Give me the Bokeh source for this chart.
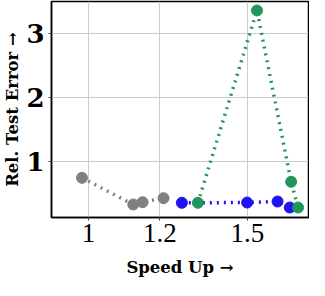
from bokeh.plotting import figure
from bokeh.models import FixedTicker, CustomJSTickFormatter, Range1d, AllLabels
from bokeh.embed import file_html
from bokeh.resources import INLINE

gray_x = [0.9835, 1.121, 1.148, 1.211]
gray_y = [0.745, 0.328, 0.364, 0.427]
blue_x = [1.269, 1.499, 1.620, 1.671]
blue_y = [0.355, 0.359, 0.375, 0.281]
green_x = [1.322, 1.537, 1.677, 1.707]
green_y = [0.355, 3.36, 0.683, 0.281]

x_ticks = [1, 1.2, 1.5]
y_ticks = [1, 2, 3]

p = figure(width=309, height=280, x_axis_type="log",
           x_range=Range1d(0.9099, 1.753), y_range=Range1d(0.125, 3.5),
           output_backend="svg", toolbar_location=None,
           min_border_left=47, min_border_right=1, min_border_top=1, min_border_bottom=63)

series = [(gray_x, gray_y, "#808080"), (blue_x, blue_y, "#1f14f0"), (green_x, green_y, "#21965a")]
for xs, ys, c in series:
    p.line(xs, ys, line_color=c, line_width=3.5, line_dash="2 5")
    p.scatter(xs, ys, size=11, fill_color=c, line_color=c)

p.outline_line_color = "black"
p.outline_line_width = 1.5
p.outline_line_alpha = 1

p.xaxis.ticker = FixedTicker(ticks=x_ticks, minor_ticks=[])
p.yaxis.ticker = FixedTicker(ticks=y_ticks, minor_ticks=[])
p.xaxis.formatter = CustomJSTickFormatter(code="return tick.toString();")
p.yaxis.formatter = CustomJSTickFormatter(code="return tick.toString();")

for ax in (p.xaxis[0], p.yaxis[0]):
    ax.axis_line_color = "black"
    ax.axis_line_width = 1.5
    ax.major_tick_in = 0
    ax.major_tick_out = 3
    ax.minor_tick_out = 0
    ax.minor_tick_in = 0
    ax.major_tick_line_color = "#444444"
    ax.major_label_policy = AllLabels()
    ax.axis_label_text_color = "black"
    ax.major_label_text_color = "black"

p.xaxis.major_label_text_font = "Liberation Serif"
p.xaxis.major_label_text_font_size = "27px"
p.xaxis.major_label_standoff = 3
p.xaxis.axis_label = "Speed Up →"
p.xaxis.axis_label_text_font = "DejaVu Serif"
p.xaxis.axis_label_text_font_style = "bold"
p.xaxis.axis_label_text_font_size = "16.5px"
p.xaxis.axis_label_standoff = 13

p.yaxis.major_label_text_font = "DejaVu Serif"
p.yaxis.major_label_text_font_style = "bold"
p.yaxis.major_label_text_font_size = "26px"
p.yaxis.major_label_standoff = 4
p.yaxis.major_label_orientation = "horizontal"
p.yaxis.axis_label = "Rel. Test Error →"
p.yaxis.axis_label_text_font = "DejaVu Serif"
p.yaxis.axis_label_text_font_style = "bold"
p.yaxis.axis_label_text_font_size = "16.5px"
p.yaxis.axis_label_standoff = 1

p.xgrid.ticker = FixedTicker(ticks=x_ticks)
p.ygrid.ticker = FixedTicker(ticks=y_ticks)
p.grid.grid_line_color = "#cccccc"
p.grid.grid_line_width = 1
p.grid.minor_grid_line_color = None

open("out.html", "w").write(file_html(p, INLINE))
